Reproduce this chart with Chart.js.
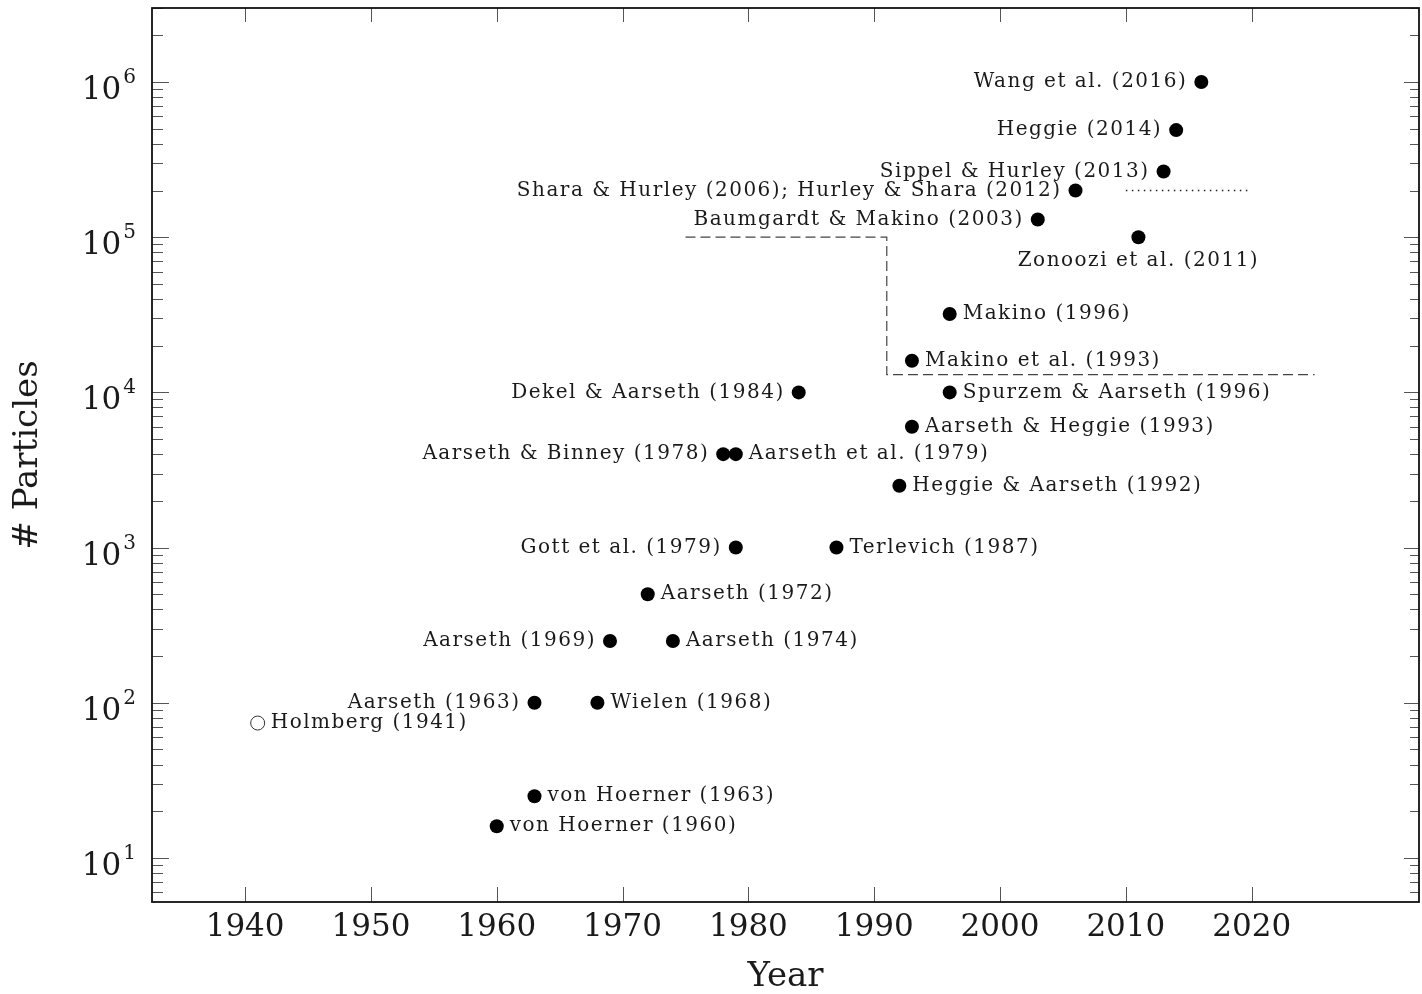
<!DOCTYPE html>
<html>
<head>
<meta charset="utf-8">
<script src="https://cdn.jsdelivr.net/npm/chart.js@4.4.1/dist/chart.umd.min.js"></script>
<style>
  html, body { margin: 0; padding: 0; background: #fff; overflow: hidden; }
  #wrap { width: 1422px; height: 994px; }
</style>
</head>
<body>
<div id="wrap"><canvas id="myChart-particles"></canvas></div>
<script>
// simulations: year vs number of particles
const studyNames = [
  "Holmberg (1941)", "von Hoerner (1960)", "von Hoerner (1963)", "Aarseth (1963)",
  "Wielen (1968)", "Aarseth (1969)", "Aarseth (1972)", "Aarseth (1974)",
  "Aarseth & Binney (1978)", "Aarseth et al. (1979)", "Gott et al. (1979)", "Dekel & Aarseth (1984)",
  "Terlevich (1987)", "Heggie & Aarseth (1992)", "Makino et al. (1993)", "Aarseth & Heggie (1993)",
  "Makino (1996)", "Spurzem & Aarseth (1996)", "Baumgardt & Makino (2003)",
  "Shara & Hurley (2006); Hurley & Shara (2012)", "Zonoozi et al. (2011)", "Sippel & Hurley (2013)",
  "Heggie (2014)", "Wang et al. (2016)"
];
const studyYears = [1941, 1960, 1963, 1963, 1968, 1969, 1972, 1974, 1978, 1979, 1979, 1984,
  1987, 1992, 1993, 1993, 1996, 1996, 2003, 2006, 2011, 2013, 2014, 2016];
const studyParticles = [74, 16, 25, 100, 100, 250, 500, 250, 4000, 4000, 1000, 10000,
  1000, 2500, 16000, 6000, 32000, 10000, 130000, 200000, 100000, 265000, 490000, 1000000];
const labelSides = ["right", "right", "right", "left", "right", "left", "right", "right",
  "left", "right", "left", "left", "right", "right", "right", "right", "right", "right",
  "left", "left", "below", "left", "left", "left"];
const openStudies = ["Holmberg (1941)"];

// dashed region boundary and dotted marker
const regionYears = [1975, 1991, 1991, 2025];
const regionParticles = [100000, 100000, 13000, 13000];
const dottedYears = [2010, 2020];
const dottedParticles = [200000, 200000];

const yearTicks = [1940, 1950, 1960, 1970, 1980, 1990, 2000, 2010, 2020];
const powerTicks = [1, 2, 3, 4, 5, 6];

const serif = "'DejaVu Serif', 'Liberation Serif', serif";
const ink = "#1a1a1a";

const framePlugin = {
  id: "frame",
  afterDatasetsDraw(chart) {
    const { ctx, chartArea: a, scales: { x, y } } = chart;
    ctx.save();
    // ticks
    ctx.strokeStyle = "#555";
    ctx.lineWidth = 1;
    ctx.beginPath();
    yearTicks.forEach((v) => {
      const px = Math.round(x.getPixelForValue(v)) + 0.5;
      ctx.moveTo(px, a.bottom); ctx.lineTo(px, a.bottom - 15);
      ctx.moveTo(px, a.top); ctx.lineTo(px, a.top + 14);
    });
    for (let e = 0; e <= 6; e++) {
      for (let m = 1; m <= 9; m++) {
        const v = m * Math.pow(10, e);
        if (v < y.min || v > y.max) continue;
        const py = Math.round(y.getPixelForValue(v)) + 0.5;
        const len = m === 1 ? 17 : 11;
        ctx.moveTo(a.left, py); ctx.lineTo(a.left + len, py);
        ctx.moveTo(a.right, py); ctx.lineTo(a.right - len + 2, py);
      }
    }
    ctx.stroke();
    // frame
    ctx.strokeStyle = "#111";
    ctx.lineWidth = 1.8;
    ctx.strokeRect(a.left, a.top, a.right - a.left, a.bottom - a.top);

    // y tick labels 10^n
    ctx.fillStyle = ink;
    ctx.textBaseline = "alphabetic";
    ctx.textAlign = "right";
    powerTicks.forEach((p) => {
      const py = y.getPixelForValue(Math.pow(10, p));
      ctx.font = "20px " + serif;
      const w = ctx.measureText(String(p)).width;
      ctx.fillText(String(p), 136, py + 1);
      ctx.font = "31px " + serif;
      ctx.fillText("10", 136 - w - 2, py + 17);
    });

    // point labels
    const meta = chart.getDatasetMeta(2);
    ctx.font = "20px " + serif;
    ctx.letterSpacing = "1.5px";
    ctx.textBaseline = "middle";
    meta.data.forEach((pt, i) => {
      const side = labelSides[i];
      let tx = pt.x, ty = pt.y;
      if (side === "left") { ctx.textAlign = "right"; tx -= 14; }
      else if (side === "right") { ctx.textAlign = "left"; tx += 13; }
      else { ctx.textAlign = "center"; ty += 24; }
      ctx.fillText(studyNames[i], tx, ty);
    });
    ctx.restore();
  },
};

new Chart(document.getElementById("myChart-particles"), {
  type: "scatter",
  data: {
    datasets: [
      {
        type: "line",
        data: regionYears.map((v, i) => ({ x: v, y: regionParticles[i] })),
        borderColor: "#444",
        borderWidth: 1.2,
        borderDash: [10, 5],
        pointRadius: 0,
        fill: false,
        tension: 0,
      },
      {
        type: "line",
        data: dottedYears.map((v, i) => ({ x: v, y: dottedParticles[i] })),
        borderColor: "#222",
        borderWidth: 1.5,
        borderDash: [1.5, 4.5],
        pointRadius: 0,
        fill: false,
      },
      {
        data: studyYears.map((v, i) => ({ x: v, y: studyParticles[i] })),
        pointRadius: 7,
        pointBorderWidth: (c) => (openStudies.includes(studyNames[c.dataIndex]) ? 1 : 0),
        pointBackgroundColor: (c) => (openStudies.includes(studyNames[c.dataIndex]) ? "#fff" : "#000"),
        pointBorderColor: "#333",
        showLine: false,
      },
    ],
  },
  options: {
    responsive: true,
    maintainAspectRatio: false,
    animation: false,
    layout: { autoPadding: false, padding: { top: 8, right: 3, left: 0, bottom: 0 } },
    plugins: { legend: { display: false }, tooltip: { enabled: false } },
    scales: {
      x: {
        type: "linear",
        min: 1932.6,
        max: 2033.3,
        afterBuildTicks: (s) => { s.ticks = yearTicks.map((v) => ({ value: v })); },
        afterFit: (s) => { s.height = 92; s.paddingLeft = 0; s.paddingRight = 0; },
        ticks: {
          callback: (v) => String(v),
          font: { family: serif, size: 31 },
          color: ink,
          padding: 7,
          maxRotation: 0,
          autoSkip: false,
        },
        grid: { display: false, drawTicks: false },
        border: { display: false },
        title: {
          display: true,
          text: "Year",
          color: ink,
          font: { family: serif, size: 34, lineHeight: 1 },
          padding: { top: 0, bottom: 0 },
        },
      },
      y: {
        type: "logarithmic",
        min: 5.2,
        max: 3e6,
        afterFit: (s) => { s.width = 152; s.paddingTop = 0; s.paddingBottom = 0; },
        ticks: { display: false },
        grid: { display: false, drawTicks: false },
        border: { display: false },
        title: {
          display: true,
          text: "# Particles",
          color: ink,
          font: { family: serif, size: 34, lineHeight: 1.2 },
          padding: { top: 8, bottom: 0 },
        },
      },
    },
  },
  plugins: [framePlugin],
});
</script>
</body>
</html>
